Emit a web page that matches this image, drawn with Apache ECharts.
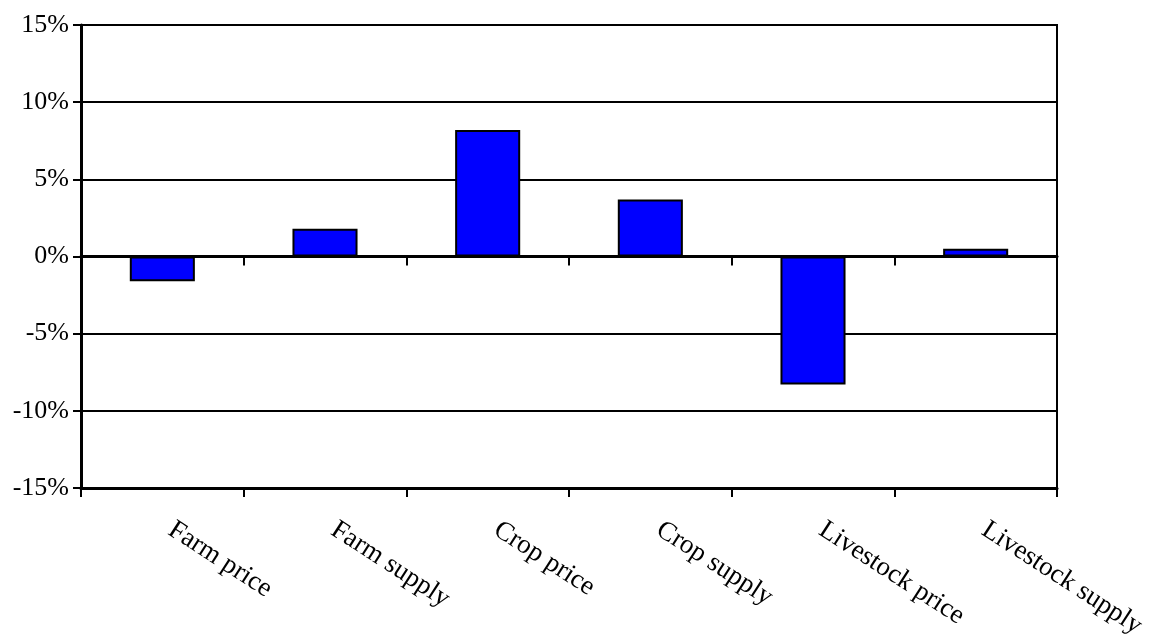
<!DOCTYPE html>
<html>
<head>
<meta charset="utf-8">
<script src="https://cdn.jsdelivr.net/npm/echarts@6/dist/echarts.min.js"></script>
<style>
  html, body { margin: 0; padding: 0; background: #fff; }
  #chart { width: 1152px; height: 634px; }
</style>
</head>
<body>
<div id="chart"></div>
<script>
// Percent change by measure
const categories = ['Farm price', 'Farm supply', 'Crop price', 'Crop supply', 'Livestock price', 'Livestock supply'];
const changes = [-1.6, 1.8, 8.2, 3.7, -8.3, 0.5];
const yTicks = { min: -15, max: 15, step: 5 };

const serif = "'Liberation Serif', 'Times New Roman', serif";
const chart = echarts.init(document.getElementById('chart'), null, { renderer: 'canvas' });

chart.setOption({
  animation: false,
  backgroundColor: '#ffffff',
  grid: {
    left: 81, right: 95, top: 25, bottom: 146,
    outerBoundsMode: 'none', containLabel: false,
    show: true, borderColor: '#000', borderWidth: 2, backgroundColor: 'transparent'
  },
  xAxis: [
    {
      // zero line with boundary ticks
      type: 'category', data: categories, position: 'bottom',
      axisLine: { onZero: true, lineStyle: { color: '#000', width: 3 } },
      axisTick: { show: true, inside: false, length: 9, lineStyle: { color: '#000', width: 2 } },
      axisLabel: { show: false },
      splitLine: { show: false }
    },
    {
      // bottom edge with category labels
      type: 'category', data: categories, position: 'bottom',
      axisLine: { onZero: false, lineStyle: { color: '#000', width: 3 } },
      axisTick: { show: true, inside: false, length: 9, lineStyle: { color: '#000', width: 2 } },
      axisLabel: {
        show: true, rotate: -33, margin: 34, interval: 0, padding: [0, 0, 0, 10],
        color: '#000', fontFamily: serif, fontSize: 27
      },
      splitLine: { show: false }
    }
  ],
  yAxis: {
    type: 'value', min: yTicks.min, max: yTicks.max, interval: yTicks.step,
    axisLine: { show: true, onZero: false, lineStyle: { color: '#000', width: 3 } },
    axisTick: { show: true, inside: false, length: 8, lineStyle: { color: '#000', width: 2 } },
    axisLabel: {
      formatter: '{value}%', margin: 12,
      color: '#000', fontFamily: serif, fontSize: 26
    },
    splitLine: { show: true, lineStyle: { color: '#000', width: 2 } }
  },
  series: [{
    type: 'bar', xAxisIndex: 0, data: changes,
    barWidth: '40%',
    itemStyle: { color: '#0000ff', borderColor: '#000', borderWidth: 2 }
  }]
});
</script>
</body>
</html>
